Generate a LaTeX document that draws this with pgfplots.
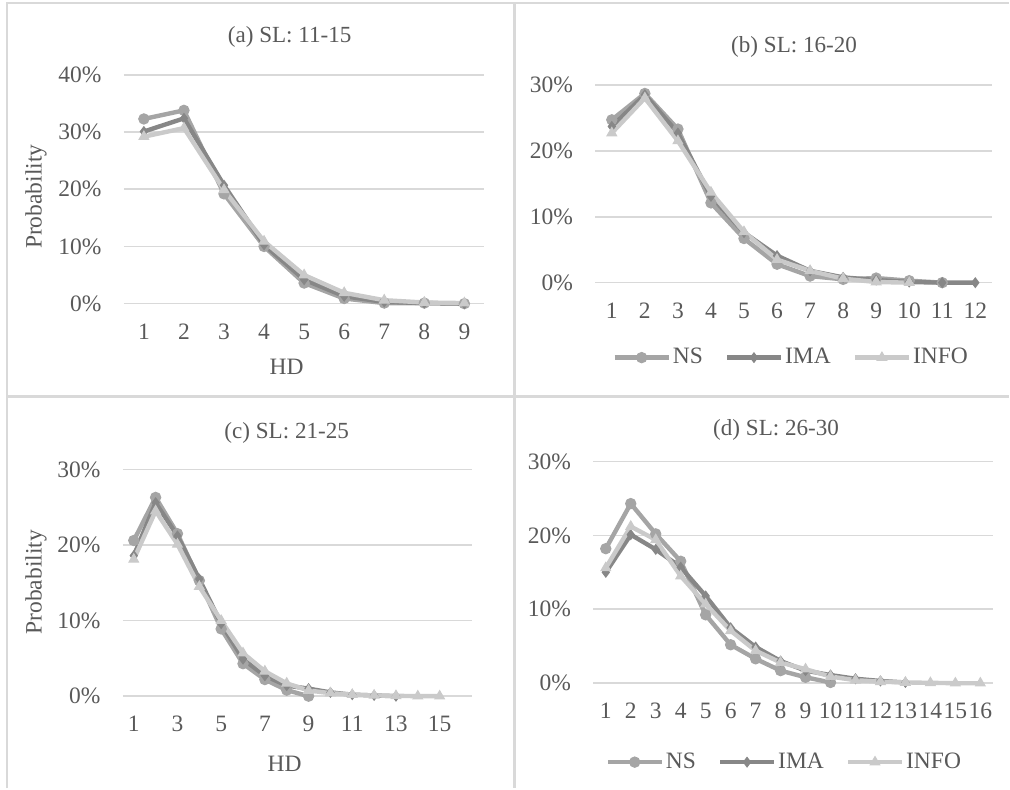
\documentclass[border=0pt]{standalone}
\usepackage{fontspec}
\setmainfont{Liberation Serif}
\usepackage{pgfplots}
\pgfplotsset{compat=1.18}

\definecolor{txt}{HTML}{595959}
\definecolor{gridc}{HTML}{D9D9D9}
\definecolor{cNS}{HTML}{A5A5A5}
\definecolor{cIMA}{HTML}{878787}
\definecolor{cINFO}{HTML}{CACACA}

\pgfplotsset{
  panel/.style={
    scale only axis,
    anchor=south west,
    ymin=0, xmin=0.5,
    axis line style={draw=none},
    major tick length=0pt,
    ymajorgrids, grid style={gridc, line width=0.8bp},
    tick label style={font=\fontsize{11.8}{13}\selectfont, text=txt},
    /pgf/number format/assume math mode=true,
    xticklabel style={anchor=center, yshift=-14bp, inner sep=0pt},
    yticklabel style={anchor=east, inner sep=0pt, xshift=-11bp},
    yticklabel={\pgfmathprintnumber{\tick}\%},
    clip=false,
    legend image code/.code={\draw[mark repeat=2, mark phase=2, ##1] plot coordinates {(0bp,0bp) (13.5bp,0bp) (27bp,0bp)};},
  },
  ns/.style={cNS, line width=2.2bp, mark=*, mark size=2.6bp, mark options={fill=cNS, draw=cNS, line width=0.5bp}},
  ima/.style={cIMA, line width=2.2bp, mark=diamond*, mark size=2.4bp, mark options={fill=cIMA, draw=cIMA, line width=0.5bp}},
  info/.style={cINFO, line width=2.2bp, mark=triangle*, mark size=2.8bp, mark options={fill=cINFO, draw=cINFO, line width=0.5bp}},
  leg/.style={legend columns=3, draw=none, fill=none, inner sep=0pt,
    font=\fontsize{11.8}{13}\selectfont, text=txt,
    /tikz/every even column/.append style={column sep=10bp},
    nodes={inner sep=1bp}},
}

\begin{document}
\begin{tikzpicture}
\path (0,0) rectangle (505bp,-394.5bp);
% frames
\draw[gridc, line width=1.2bp] (3.5bp,-394.5bp) -- (3.5bp,-1.5bp) -- (505bp,-1.5bp);
\draw[gridc, line width=1.2bp] (257.5bp,-1.5bp) -- (257.5bp,-394.5bp);
\draw[gridc, line width=1.2bp] (3.5bp,-198.5bp) -- (505bp,-198.5bp);

% (a)
\begin{axis}[panel, at={(62bp,-152bp)}, width=180.5bp, height=114.5bp,
  xmax=9.5, ymax=40, xtick={1,...,9}, ytick={0,10,20,30,40}]
\addplot[ns] coordinates {(1,32.3)(2,33.8)(3,19.2)(4,10.0)(5,3.6)(6,0.9)(7,0.1)(8,0.1)(9,0.0)};
\addplot[ima] coordinates {(1,30.1)(2,32.4)(3,20.7)(4,10.3)(5,4.2)(6,1.3)(7,0.3)(8,0.1)(9,0.0)};
\addplot[info] coordinates {(1,29.2)(2,30.7)(3,19.9)(4,10.9)(5,5.0)(6,1.9)(7,0.6)(8,0.2)(9,0.1)};
\end{axis}

% (b)
\begin{axis}[panel, at={(298bp,-141.5bp)}, width=198.5bp, height=99bp,
  xmax=12.5, ymax=30, xtick={1,...,12}, ytick={0,10,20,30},
  legend style={leg, at={(0.494,-0.379)}, anchor=center}]
\addplot[ns] coordinates {(1,24.7)(2,28.7)(3,23.3)(4,12.1)(5,6.7)(6,2.8)(7,1.0)(8,0.5)(9,0.7)(10,0.3)(11,0.0)};
\addplot[ima] coordinates {(1,23.7)(2,28.5)(3,22.7)(4,13.1)(5,7.6)(6,4.1)(7,1.8)(8,0.8)(9,0.4)(10,0.1)(11,0.0)(12,0.0)};
\addplot[info] coordinates {(1,22.7)(2,28.0)(3,21.5)(4,13.7)(5,7.7)(6,3.5)(7,1.8)(8,0.6)(9,0.1)(10,0.0)};
\legend{NS,IMA,INFO}
\end{axis}

% (c)
\begin{axis}[panel, at={(61.5bp,-348.5bp)}, width=175bp, height=113.5bp,
  xmax=16.5, ymax=30, xtick={1,3,...,15}, ytick={0,10,20,30}]
\addplot[ns] coordinates {(1,20.6)(2,26.3)(3,21.5)(4,15.3)(5,8.9)(6,4.3)(7,2.2)(8,0.8)(9,0.0)};
\addplot[ima] coordinates {(1,18.6)(2,25.6)(3,21.2)(4,15.5)(5,9.6)(6,4.9)(7,2.7)(8,1.4)(9,1.0)(10,0.5)(11,0.2)(12,0.1)(13,0.0)};
\addplot[info] coordinates {(1,18.1)(2,24.5)(3,20.1)(4,14.5)(5,10.0)(6,5.7)(7,3.3)(8,1.7)(9,0.75)(10,0.4)(11,0.2)(12,0.1)(13,0.05)(14,0.0)(15,0.0)};
\end{axis}

% (d)
\begin{axis}[panel, at={(297bp,-342bp)}, width=200bp, height=111bp,
  xmax=16.5, ymax=30, xtick={1,...,16}, ytick={0,10,20,30},
  legend style={leg, at={(0.478,-0.356)}, anchor=center}]
\addplot[ns] coordinates {(1,18.2)(2,24.3)(3,20.2)(4,16.5)(5,9.25)(6,5.2)(7,3.3)(8,1.7)(9,0.8)(10,0.1)};
\addplot[ima] coordinates {(1,15.0)(2,20.1)(3,18.1)(4,15.7)(5,11.8)(6,7.5)(7,4.9)(8,3.0)(9,1.7)(10,1.1)(11,0.6)(12,0.3)(13,0.1)};
\addplot[info] coordinates {(1,15.6)(2,21.2)(3,19.4)(4,14.5)(5,10.7)(6,7.1)(7,4.4)(8,2.8)(9,1.9)(10,0.9)(11,0.4)(12,0.2)(13,0.1)(14,0.05)(15,0.0)(16,0.0)};
\legend{NS,IMA,INFO}
\end{axis}

% titles and labels
\begin{scope}[every node/.style={text=txt, font=\fontsize{11.6}{13}\selectfont}]
\node at (145bp,-18.5bp) {(a) SL: 11-15};
\node at (397.5bp,-23.5bp) {(b) SL: 16-20};
\node at (143.5bp,-216.5bp) {(c) SL: 21-25};
\node at (388.5bp,-215bp) {(d) SL: 26-30};
\end{scope}
\begin{scope}[every node/.style={text=txt, font=\fontsize{11.8}{13}\selectfont}]
\node at (143.5bp,-183.5bp) {HD};
\node at (142.5bp,-382.5bp) {HD};
\node[rotate=90] at (18bp,-98.5bp) {Probability};
\node[rotate=90] at (18bp,-291.5bp) {Probability};
\end{scope}
\end{tikzpicture}
\end{document}
